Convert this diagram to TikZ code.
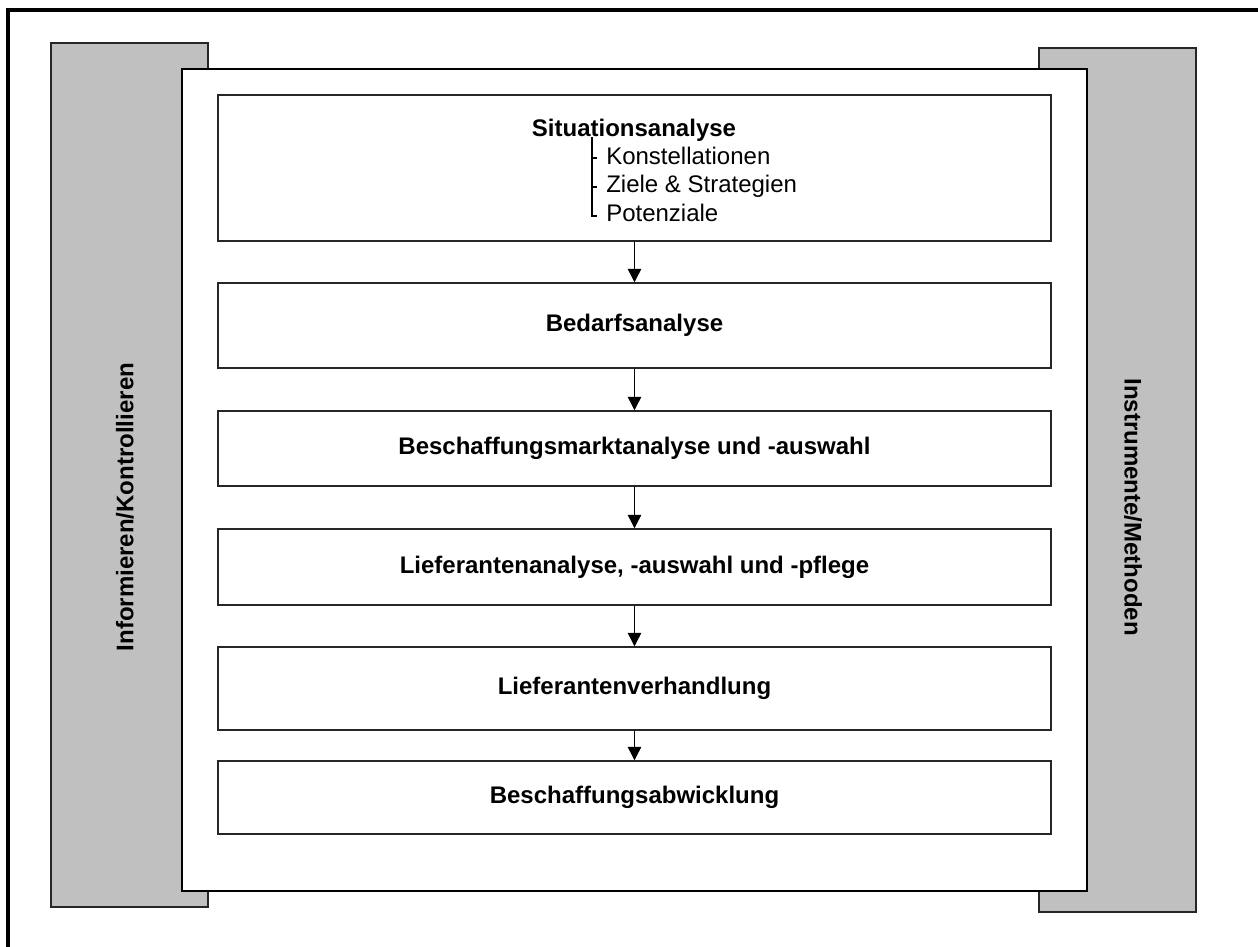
\documentclass[tikz,border=0pt]{standalone}
\usepackage{fontspec}
\setmainfont{Liberation Sans}
\usetikzlibrary{fit,arrows.meta}
\definecolor{panelgray}{RGB}{192,192,192}
\begin{document}
\begin{tikzpicture}[x=0.75pt,y=-0.75pt,
  panel/.style={draw=black!85,line width=1.3pt,fill=panelgray,inner sep=0pt},
  whitepanel/.style={draw=black,line width=1.1pt,fill=white,inner sep=0pt},
  stepbox/.style={draw=black!85,line width=1.1pt,fill=white,inner sep=0pt},
  boldtxt/.style={font=\bfseries\fontsize{18}{21}\selectfont,inner sep=0pt},
  subtxt/.style={font=\fontsize{18}{21}\selectfont,inner sep=0pt,anchor=base west},
  arr/.style={line width=1pt,-{Triangle[length=10pt,width=10pt]}},
  tree/.style={line width=0.8pt}]
\useasboundingbox (0,0) rectangle (1258,947);
% outer frame (cropped)
\draw[line width=2.4pt] (8,947) -- (8,10) -- (1258,10);
% side panels
\node[panel,fit={(51,43)(208,907)}] (left) {};
\node[panel,fit={(1039,48)(1196,912)}] (right) {};
\node[boldtxt,rotate=90] (lefttxt) at (125,507) {Informieren/Kontrollieren};
\node[boldtxt,rotate=-90] (righttxt) at (1133,507) {Instrumente/Methoden};
% inner white panel
\node[whitepanel,fit={(182,69)(1087,891)}] (inner) {};
% step boxes
\node[stepbox,fit={(218,95)(1051,241)}] (b1) {};
\node[stepbox,fit={(218,283)(1051,368)}] (b2) {};
\node[stepbox,fit={(218,411)(1051,486)}] (b3) {};
\node[stepbox,fit={(218,529)(1051,605)}] (b4) {};
\node[stepbox,fit={(218,647)(1051,730)}] (b5) {};
\node[stepbox,fit={(218,761)(1051,834)}] (b6) {};
\node[boldtxt] (t2) at (b2.center) {Bedarfsanalyse};
\node[boldtxt] (t3) at (b3.center) {Beschaffungsmarktanalyse und -auswahl};
\node[boldtxt] (t4) at (b4.center) {Lieferantenanalyse, -auswahl und -pflege};
\node[boldtxt] (t5) at (b5.center) {Lieferantenverhandlung};
\node[boldtxt] (t6) at (b6.center) {Beschaffungsabwicklung};
% contents of first box
\node[boldtxt,anchor=base] (sit) at (634,136) {Situationsanalyse};
\node[subtxt] (k1) at (606,164) {Konstellationen};
\node[subtxt] (k2) at (606,192.5) {Ziele \& Strategien};
\node[subtxt] (k3) at (606,221) {Potenziale};
\draw[tree] (592,137) -- (592,216) -- (597,216);
\draw[tree] (592,158) -- (597,158);
\draw[tree] (592,187) -- (597,187);
% arrows
\draw[arr] (b1.south) -- (b2.north);
\draw[arr] (b2.south) -- (b3.north);
\draw[arr] (b3.south) -- (b4.north);
\draw[arr] (b4.south) -- (b5.north);
\draw[arr] (b5.south) -- (b6.north);
\end{tikzpicture}
\end{document}
